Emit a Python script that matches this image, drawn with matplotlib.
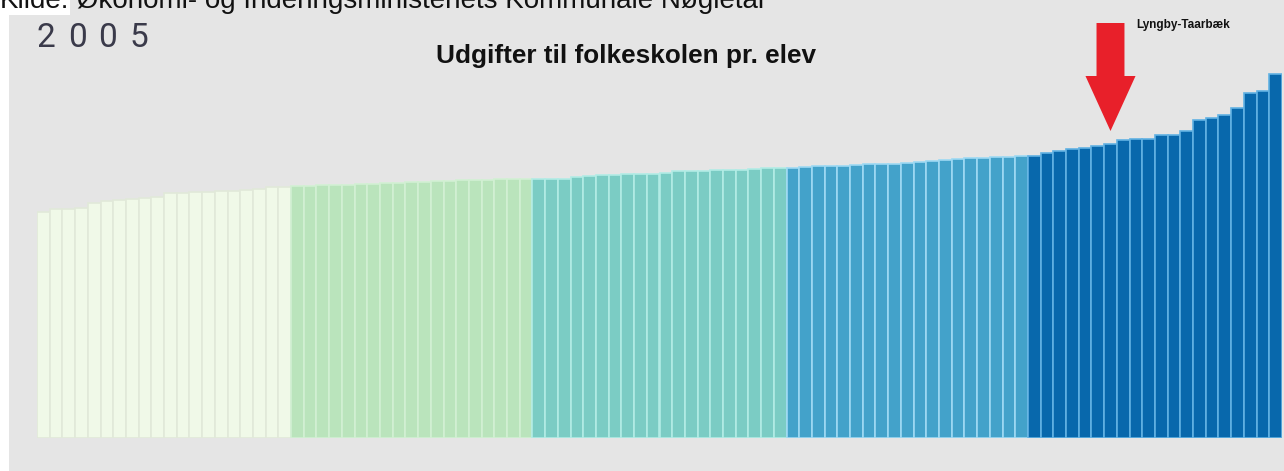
import matplotlib
matplotlib.use("Agg")
import matplotlib.pyplot as plt
from matplotlib.patches import Polygon

plt.rcParams['font.family'] = ['Liberation Sans', 'DejaVu Sans']

# ---- data (thousand kr per pupil) ----
year = "2005"
title = "Udgifter til folkeskolen pr. elev"
source_label = "Kilde:"
source_text = " Økonomi- og Indenrigsministeriets Kommunale Nøgletal"
highlight_name = "Lyngby-Taarbæk"

group1 = [45.2, 45.8, 45.8, 46.0, 47.0, 47.4, 47.6, 47.8, 48.0, 48.2,
          49.0, 49.0, 49.2, 49.2, 49.4, 49.4, 49.6, 49.8, 50.2, 50.2]
group2 = [50.4, 50.5, 50.6, 50.6, 50.7, 50.8, 50.9, 51.1, 51.1, 51.3,
          51.3, 51.4, 51.5, 51.6, 51.7, 51.7, 51.8, 51.9, 51.9]
group3 = [51.9, 51.9, 51.9, 52.3, 52.5, 52.6, 52.7, 52.9, 52.9, 52.9,
          53.1, 53.4, 53.5, 53.5, 53.6, 53.6, 53.6, 53.9, 54.0, 54.0]
group4 = [54.1, 54.3, 54.5, 54.5, 54.5, 54.6, 54.9, 54.9, 54.9, 55.0,
          55.3, 55.4, 55.7, 55.8, 56.1, 56.1, 56.3, 56.3, 56.4]
group5 = [56.5, 57.1, 57.4, 57.8, 58.1, 58.4, 58.8, 59.6, 59.9, 59.9,
          60.7, 60.7, 61.4, 63.6, 64.1, 64.7, 66.1, 69.0, 69.5, 72.9]
groups = [group1, group2, group3, group4, group5]
highlight_group = 4
highlight_pos = 6

# ---- styles ----
fill_colors = ['#f0f9e8', '#bae4bc', '#7bccc4', '#43a2ca', '#0868ac']
edge_colors = ['#e1e9d9', '#d2f0d3', '#b2ece5', '#9ed9f3', '#62b2e3']
panel_color = '#e5e5e5'

W, H = 1284, 471
fig = plt.figure(figsize=(W / 100, H / 100), dpi=100)
fig.patch.set_facecolor('white')

# grey panel as a background axes
bg = fig.add_axes([9 / W, 0, 1 - 9 / W, 1], zorder=-1)
bg.set_facecolor(panel_color)
bg.set_xticks([])
bg.set_yticks([])
for s in bg.spines.values():
    s.set_visible(False)

n_total = sum(len(g) for g in groups)
ax = fig.add_axes([37 / W, (H - 438) / H, (1282 - 37) / W, (438 - 8) / H], zorder=1)
ax.set_facecolor('none')
ax.set_xlim(-0.5, n_total - 0.5)
ax.set_ylim(0, 86)
ax.axis('off')

start = 0
for gi, g in enumerate(groups):
    xs = list(range(start, start + len(g)))
    ax.bar(xs, g, width=1.0, color=fill_colors[gi], edgecolor=edge_colors[gi],
           linewidth=1.2, zorder=2)
    start += len(g)

# highlight arrow
hx = sum(len(g) for g in groups[:highlight_group]) + highlight_pos
hy = groups[highlight_group][highlight_pos]
tip = hy + 2.6
head_top = hy + 13.6
shaft_top = hy + 24.2
hw, sw = 1.97, 1.1
arrow = Polygon([(hx, tip), (hx - hw, head_top), (hx - sw, head_top), (hx - sw, shaft_top),
                 (hx + sw, shaft_top), (hx + sw, head_top), (hx + hw, head_top)],
                closed=True, facecolor='#e8202a', edgecolor='none', zorder=3, clip_on=False)
ax.add_patch(arrow)
ax.text(hx + 2.05, hy + 23.8, highlight_name, fontsize=8.5, fontweight='bold',
        ha='left', va='center', color='#111111', clip_on=False)

# title and year
fig.text(626 / W, (H - 63) / H, title, fontsize=18.8, fontweight='bold',
         ha='center', va='baseline', color='#111111', zorder=5)
for i, ch in enumerate(year):
    fig.text((37 + i * 30.7) / W, (H - 47) / H, ch, fontsize=24,
             family=['Roboto', 'DejaVu Sans'],
             ha='left', va='baseline', color='#3a3a4a', zorder=5)

# source line (cut at the top edge, as in the reference)
t1 = fig.text(0, (H - 8) / H, source_label, fontsize=20, ha='left', va='baseline',
              color='#111111', zorder=5,
              bbox=dict(facecolor='white', edgecolor='none', pad=0.8))
ax.annotate(source_text, xy=(1, 0), xycoords=t1, fontsize=20, ha='left', va='bottom',
            color='#111111', annotation_clip=False, zorder=5)

fig.savefig('out.png', dpi=100)
